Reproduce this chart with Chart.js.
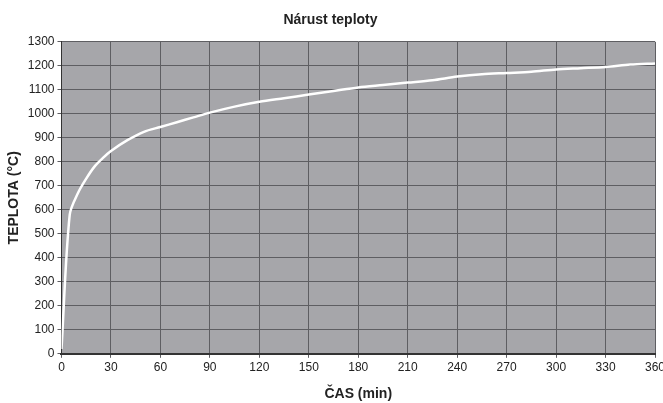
<!DOCTYPE html>
<html lang="cs">
<head>
  <meta charset="UTF-8" />
  <title>Nárust teploty</title>
  <script src="https://cdn.jsdelivr.net/npm/chart.js"></script>
  <style>
    html, body { margin: 0; padding: 0; background: #fff; }
    #wrap { width: 663px; height: 403px; }
  </style>
</head>
<body>
  <div id="wrap"><canvas id="chart" width="663" height="403"></canvas></div>
  <script>
    // hodnoty
    var casMin = [0, 5, 10, 15, 20, 25, 30, 40, 50, 60, 70, 80, 90, 105, 120, 135, 150, 165, 180, 195, 210, 225, 240, 255, 270, 285, 300, 315, 330, 345, 360];
    var teplota = [20, 580, 670, 730, 780, 815, 845, 890, 925, 945, 965, 985, 1005, 1030, 1050, 1065, 1080, 1095, 1110, 1120, 1130, 1140, 1155, 1165, 1170, 1175, 1185, 1190, 1195, 1205, 1210];

    var points = casMin.map(function (t, i) { return { x: t, y: teplota[i] }; });

    var plotBg = {
      id: 'plotBg',
      beforeDraw: function (chart) {
        var a = chart.chartArea, ctx = chart.ctx;
        ctx.save();
        ctx.fillStyle = '#a6a6aa';
        ctx.fillRect(a.left, a.top, a.right - a.left, a.bottom - a.top);
        ctx.restore();
      }
    };

    Chart.defaults.font.family = '"Liberation Sans", Arial, sans-serif';
    Chart.defaults.color = '#222';

    new Chart(document.getElementById('chart'), {
      type: 'scatter',
      data: {
        datasets: [{
          data: points,
          showLine: true,
          borderColor: '#ffffff',
          borderWidth: 2.5,
          pointRadius: 0,
          tension: 0.3
        }]
      },
      options: {
        responsive: false,
        animation: false,
        layout: { padding: { top: 0, right: 8, bottom: 0, left: 6 } },
        plugins: {
          legend: { display: false },
          tooltip: { enabled: false },
          title: {
            display: true,
            text: 'Nárust teploty',
            font: { size: 14, weight: 'bold' },
            color: '#222',
            padding: { top: 12, bottom: 13 }
          }
        },
        scales: {
          x: {
            type: 'linear',
            min: 0,
            max: 360,
            afterFit: function (s) { s.paddingRight = 0; },
            ticks: { stepSize: 30, font: { size: 12 }, color: '#222', padding: 3, maxRotation: 0,
              callback: function (v) { return String(v); } },
            grid: { color: '#5e5e62', lineWidth: 1, tickLength: 4 },
            border: { color: '#333', width: 2 },
            title: { display: true, text: 'ČAS (min)', font: { size: 14, weight: 'bold' }, color: '#222', padding: { top: 8, bottom: 0 } }
          },
          y: {
            min: 0,
            max: 1300,
            ticks: { stepSize: 100, font: { size: 12 }, color: '#222', padding: 3,
              callback: function (v) { return String(v); } },
            grid: { color: '#5e5e62', lineWidth: 1, tickLength: 4 },
            border: { color: '#333', width: 1 },
            title: { display: true, text: 'TEPLOTA (°C)', font: { size: 14, weight: 'bold' }, color: '#222', padding: { top: 0, bottom: 2 } }
          }
        }
      },
      plugins: [plotBg]
    });
  </script>
</body>
</html>
